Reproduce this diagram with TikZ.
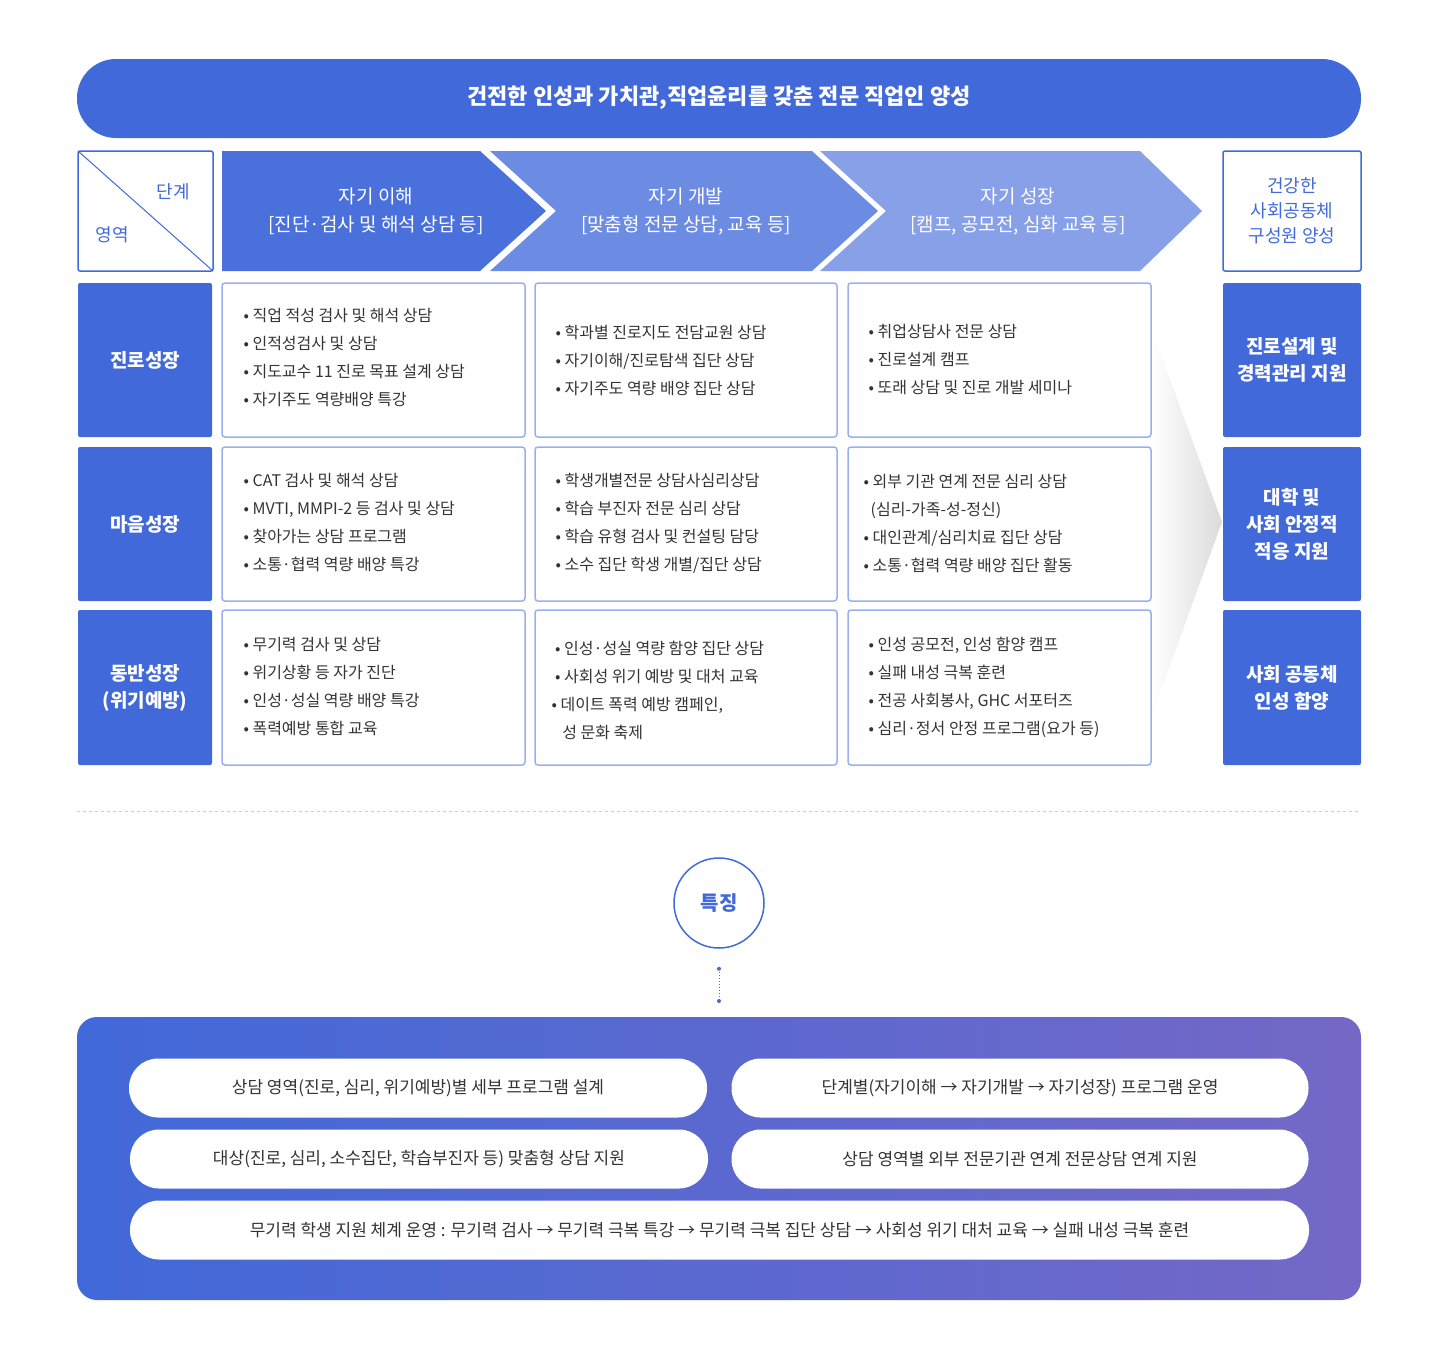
\documentclass[tikz,border=0pt]{standalone}
\usepackage{fontspec}
\setmainfont{Noto Sans CJK KR}
\usetikzlibrary{arrows.meta,calc}
\definecolor{mainblue}{HTML}{4169D9}
\definecolor{stepone}{HTML}{4A70DC}
\definecolor{steptwo}{HTML}{6C8BE3}
\definecolor{stepthree}{HTML}{88A0E8}
\definecolor{cellline}{HTML}{9AB0EE}
\definecolor{deeppurple}{HTML}{7468C6}
\tikzset{
  cell/.style={draw=cellline,line width=1.5pt,rounded corners=3pt},
  celltext/.style={anchor=west,align=left,text=black!80,font=\fontsize{16}{28}\selectfont},
  areabox/.style={fill=mainblue,rounded corners=2pt,text=white,align=center,font=\bfseries\fontsize{19}{26}\selectfont},
  pill/.style={fill=white,rounded corners=29pt,text=black!80,font=\fontsize{17}{20}\selectfont}
}
\begin{document}
\begin{tikzpicture}[x=1pt,y=-1pt]
  \useasboundingbox (0,0) rectangle (1438,1360);

  % goal banner
  \fill[mainblue,rounded corners=39pt] (77,59) rectangle (1361,138);
  \node[text=white,font=\bfseries\fontsize{22}{26}\selectfont] (goal) at (719,98) {건전한 인성과 가치관,직업윤리를 갖춘 전문 직업인 양성};

  % corner box
  \draw[mainblue,line width=1.5pt,rounded corners=2pt] (78,151) rectangle (213,271);
  \draw[mainblue,line width=1pt] (78,151) -- (213,271);
  \node[text=mainblue,font=\fontsize{18}{20}\selectfont] (stage) at (173,192) {단계};
  \node[text=mainblue,font=\fontsize{18}{20}\selectfont] (area) at (112,235) {영역};

  % stage arrows
  \fill[stepthree] (820,151) -- (1140,151) -- (1202,211) -- (1140,271) -- (820,271) -- (886,211) -- cycle;
  \fill[steptwo] (490,151) -- (812,151) -- (878,211) -- (812,271) -- (490,271) -- (556,211) -- cycle;
  \fill[stepone] (222,151) -- (480,151) -- (546,211) -- (480,271) -- (222,271) -- cycle;
  \foreach \x/\a/\b [count=\i] in {376/자기 이해/{[진단·검사 및 해석 상담 등]},
                                   686/자기 개발/{[맞춤형 전문 상담, 교육 등]},
                                   1018/자기 성장/{[캠프, 공모전, 심화 교육 등]}} {
    \node[text=white,align=center,font=\fontsize{19}{28}\selectfont] (step\i) at (\x,211) {\a\\\b};
  }

  % goal box
  \draw[mainblue,line width=1.5pt,rounded corners=2pt] (1223,151) rectangle (1361,271);
  \node[text=mainblue,align=center,font=\fontsize{18}{25}\selectfont] (target) at (1292,211) {건강한\\사회공동체\\구성원 양성};

  % flow shade
  \shade[left color=white,right color=black!14] (1152,330) -- (1222,522) -- (1152,715) -- cycle;

  % rows
  \foreach \t/\b/\l/\r [count=\i] in {283/437/진로성장/{진로설계 및\\경력관리 지원},
                                      447/601/마음성장/{대학 및\\사회 안정적\\적응 지원},
                                      610/765/{동반성장\\(위기예방)}/{사회 공동체\\인성 함양}} {
    \fill[mainblue,rounded corners=2pt] (78,\t) rectangle (212,\b);
    \node[text=white,align=center,font=\bfseries\fontsize{19}{27}\selectfont] (row\i) at (145,{(\t+\b)/2}) {\l};
    \fill[mainblue,rounded corners=2pt] (1223,\t) rectangle (1361,\b);
    \node[text=white,align=center,font=\bfseries\fontsize{19}{27}\selectfont] (out\i) at (1292,{(\t+\b)/2}) {\r};
    \foreach \x/\w in {222/525,535/837,848/1151}
      \draw[cell] (\x,\t) rectangle (\w,\b);
  }

  % cell texts
  \node[celltext] (c11) at (240,358) {• 직업 적성 검사 및 해석 상담\\• 인적성검사 및 상담\\• 지도교수 11 진로 목표 설계 상담\\• 자기주도 역량배양 특강};
  \node[celltext] (c12) at (552,360) {• 학과별 진로지도 전담교원 상담\\• 자기이해/진로탐색 집단 상담\\• 자기주도 역량 배양 집단 상담};
  \node[celltext] (c13) at (865,360) {• 취업상담사 전문 상담\\• 진로설계 캠프\\• 또래 상담 및 진로 개발 세미나};
  \node[celltext] (c21) at (240,523) {• CAT 검사 및 해석 상담\\• MVTI, MMPI-2 등 검사 및 상담\\• 찾아가는 상담 프로그램\\• 소통·협력 역량 배양 특강};
  \node[celltext] (c22) at (552,523) {• 학생개별전문 상담사심리상담\\• 학습 부진자 전문 심리 상담\\• 학습 유형 검사 및 컨설팅 담당\\• 소수 집단 학생 개별/집단 상담};
  \node[celltext] (c23) at (860,524) {• 외부 기관 연계 전문 심리 상담\\\ \ (심리-가족-성-정신)\\• 대인관계/심리치료 집단 상담\\• 소통·협력 역량 배양 집단 활동};
  \node[celltext] (c31) at (240,687) {• 무기력 검사 및 상담\\• 위기상황 등 자가 진단\\• 인성·성실 역량 배양 특강\\• 폭력예방 통합 교육};
  \node[celltext] (c32) at (548,690) {\ • 인성·성실 역량 함양 집단 상담\\\ • 사회성 위기 예방 및 대처 교육\\• 데이트 폭력 예방 캠페인,\\\ \ \ 성 문화 축제};
  \node[celltext] (c33) at (865,687) {• 인성 공모전, 인성 함양 캠프\\• 실패 내성 극복 훈련\\• 전공 사회봉사, GHC 서포터즈\\• 심리·정서 안정 프로그램(요가 등)};

  % divider
  \draw[black!20,dashed] (77,811) -- (1361,811);

  % feature badge
  \node[circle,draw=mainblue,line width=1.5pt,minimum size=90pt,text=mainblue,font=\bfseries\fontsize{20}{24}\selectfont] (feat) at (719,903) {특징};
  \coordinate (dotend) at (719,1001);
  \draw[mainblue,dotted,line width=1pt] ($(feat.south)+(0,20)$) -- (dotend);
  \fill[mainblue] ($(feat.south)+(0,20)$) circle (2pt) (dotend) circle (2pt);

  % feature panel
  \shade[left color=mainblue,right color=deeppurple,rounded corners=20pt] (77,1017) rectangle (1361,1300);
  \node[pill,minimum width=578pt,minimum height=59pt] (f1) at (418,1088) {상담 영역(진로, 심리, 위기예방)별 세부 프로그램 설계};
  \node[pill,minimum width=577pt,minimum height=59pt] (f2) at (1020,1088) {단계별(자기이해 → 자기개발 → 자기성장) 프로그램 운영};
  \node[pill,minimum width=578pt,minimum height=59pt] (f3) at (419,1159) {대상(진로, 심리, 소수집단, 학습부진자 등) 맞춤형 상담 지원};
  \node[pill,minimum width=577pt,minimum height=59pt] (f4) at (1020,1159) {상담 영역별 외부 전문기관 연계 전문상담 연계 지원};
  \node[pill,minimum width=1179pt,minimum height=59pt] (f5) at (719.5,1230) {무기력 학생 지원 체계 운영 : 무기력 검사 → 무기력 극복 특강 → 무기력 극복 집단 상담 → 사회성 위기 대처 교육 → 실패 내성 극복 훈련};
\end{tikzpicture}
\end{document}
